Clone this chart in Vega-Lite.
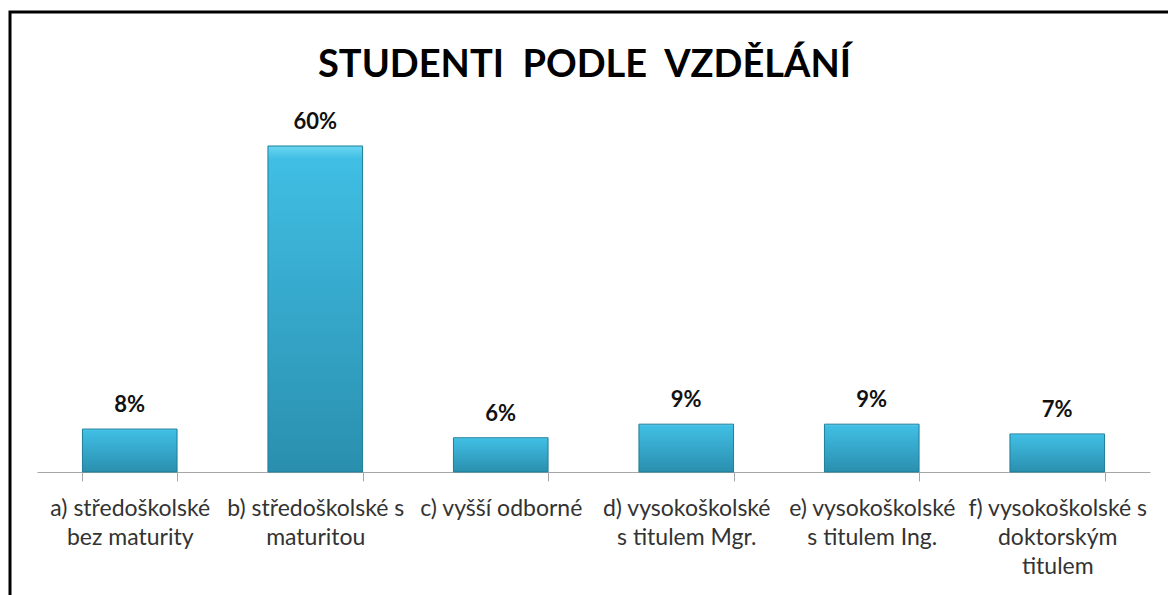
{
  "$schema": "https://vega.github.io/schema/vega-lite/v6.json",
  "autosize": "none",
  "padding": {"left": 10, "top": 12, "right": 0, "bottom": 0},
  "width": 1170,
  "height": 590,
  "background": "white",
  "title": {
    "text": "STUDENTI \u00a0PODLE \u00a0VZDĚLÁNÍ",
    "font": "Lato",
    "fontSize": 38,
    "fontWeight": "bold",
    "color": "#000000",
    "anchor": "start",
    "dx": 308,
    "offset": -63,
    "dy": 40,
    "baseline": "alphabetic"
  },
  "data": {
    "values": [
      {"cat": "a) středoškolské|bez maturity", "value": 0.079},
      {"cat": "b) středoškolské s|maturitou", "value": 0.6},
      {"cat": "c) vyšší odborné", "value": 0.063},
      {"cat": "d) vysokoškolské|s titulem Mgr.", "value": 0.088},
      {"cat": "e) vysokoškolské|s titulem Ing.", "value": 0.088},
      {"cat": "f) vysokoškolské s|doktorským|titulem", "value": 0.07}
    ]
  },
  "encoding": {
    "x": {
      "field": "cat",
      "type": "nominal",
      "sort": null,
      "scale": {"range": [27, 1140], "paddingInner": 0.49, "paddingOuter": 0.245},
      "axis": {
        "title": null,
        "orient": "bottom",
        "offset": -130,
        "labelAngle": 0,
        "labelExpr": "split(datum.label, '|')",
        "labelFont": "Lato",
        "labelFontSize": 23,
        "labelColor": "#333333",
        "labelLineHeight": 29,
        "labelPadding": 16,
        "labelLimit": 0,
        "labelBaseline": "top",
        "tickBand": "extent",
        "tickSize": 9,
        "tickColor": "#A6A6A6",
        "domainColor": "#A6A6A6",
        "domainWidth": 1,
        "tickWidth": 1
      }
    },
    "y": {
      "field": "value",
      "type": "quantitative",
      "scale": {"domain": [-0.2393, 0.8466], "nice": false, "zero": false},
      "axis": null
    }
  },
  "layer": [
    {
      "mark": {
        "type": "bar",
        "stroke": "#1E7D98",
        "strokeWidth": 1,
        "color": {
          "gradient": "linear",
          "x1": 0, "y1": 0, "x2": 0, "y2": 1,
          "stops": [
            {"offset": 0, "color": "#6AD6F2"},
            {"offset": 0.04, "color": "#40BEE4"},
            {"offset": 1, "color": "#2A8FAE"}
          ]
        }
      },
      "encoding": {
        "y2": {"datum": 0}
      }
    },
    {
      "mark": {
        "type": "text",
        "font": "Lato",
        "fontSize": 22,
        "fontWeight": "bold",
        "color": "#111111",
        "baseline": "alphabetic",
        "dy": -17
      },
      "encoding": {
        "text": {"field": "value", "type": "quantitative", "format": ".0%"}
      }
    }
  ],
  "config": {
    "view": {"stroke": "#000000", "strokeWidth": 3, "fill": "white"}
  }
}
